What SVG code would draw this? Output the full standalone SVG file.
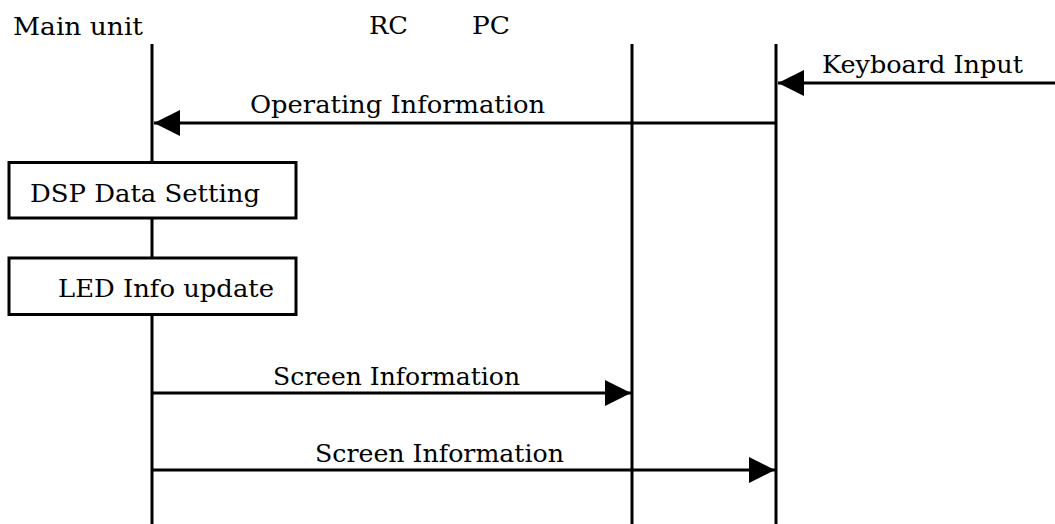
<svg xmlns="http://www.w3.org/2000/svg" width="1055" height="524" viewBox="0 0 1055 524">
  <style>
    text { font-family: "DejaVu Serif", "Liberation Serif", serif; font-size: 24px; fill: #000; }
    .life { stroke: #000; stroke-width: 3; fill: none; }
    .msg { stroke: #000; stroke-width: 3; fill: none; marker-end: url(#arrow); }
    .box { fill: #fff; stroke: #000; stroke-width: 3; }
  </style>
  <defs>
    <marker id="arrow" markerUnits="userSpaceOnUse" markerWidth="26" markerHeight="26" refX="26" refY="13" orient="auto">
      <path d="M0,0 L26,13 L0,26 z" fill="#000"/>
    </marker>
  </defs>

  <g id="lifelines">
    <line class="life" x1="152" y1="44" x2="152" y2="524"/>
    <line class="life" x1="632" y1="44" x2="632" y2="524"/>
    <line class="life" x1="776" y1="44" x2="776" y2="524"/>
  </g>

  <g id="headers">
    <text x="13" y="35" textLength="130" lengthAdjust="spacingAndGlyphs">Main unit</text>
    <text x="369" y="34" textLength="39" lengthAdjust="spacingAndGlyphs">RC</text>
    <text x="472" y="34" textLength="38" lengthAdjust="spacingAndGlyphs">PC</text>
  </g>

  <g id="connectors">
    <line class="msg" x1="1055" y1="83" x2="778" y2="83"/>
    <line class="msg" x1="776" y1="123" x2="154" y2="123"/>
    <line class="msg" x1="152" y1="393" x2="631" y2="393"/>
    <line class="msg" x1="152" y1="470" x2="775" y2="470"/>
  </g>

  <g id="labels">
    <text x="822" y="73" textLength="201" lengthAdjust="spacingAndGlyphs">Keyboard Input</text>
    <text x="250" y="113" textLength="295" lengthAdjust="spacingAndGlyphs">Operating Information</text>
    <text x="273" y="385" textLength="247" lengthAdjust="spacingAndGlyphs">Screen Information</text>
    <text x="315" y="462" textLength="249" lengthAdjust="spacingAndGlyphs">Screen Information</text>
  </g>

  <g id="dsp-data-setting">
    <rect class="box" x="9" y="162.5" width="287" height="55.5"/>
    <text x="30" y="202" textLength="230" lengthAdjust="spacingAndGlyphs">DSP Data Setting</text>
  </g>

  <g id="led-info-update">
    <rect class="box" x="9" y="258" width="287" height="56.5"/>
    <text x="58" y="297" textLength="216" lengthAdjust="spacingAndGlyphs">LED Info update</text>
  </g>
</svg>
